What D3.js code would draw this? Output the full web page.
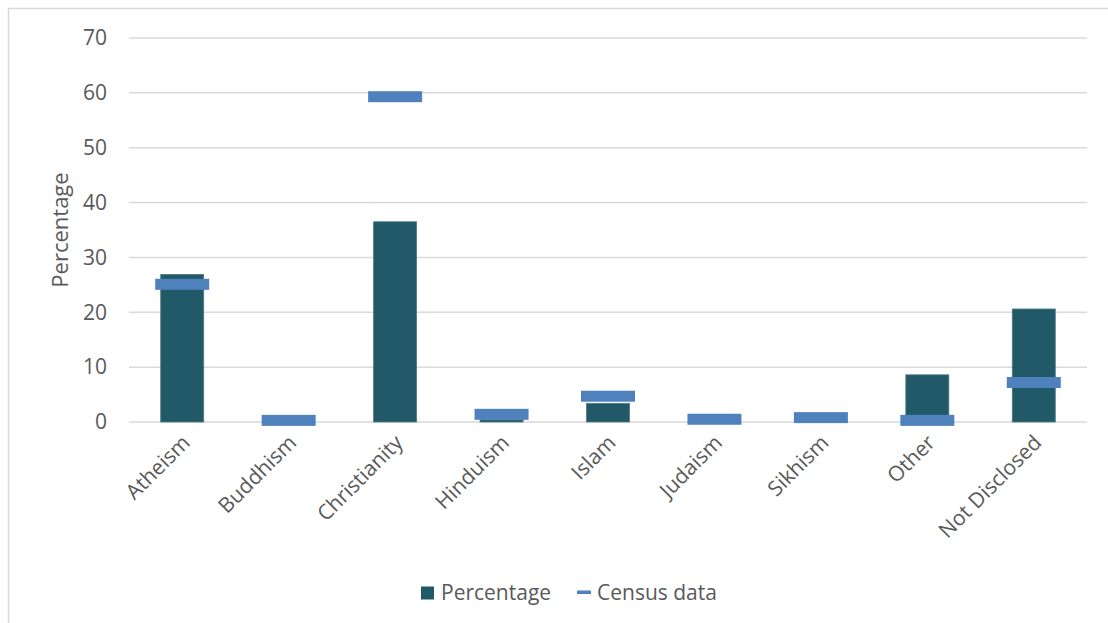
<!DOCTYPE html>
<html>
<head>
<meta charset="utf-8">
<script src="https://cdn.jsdelivr.net/npm/d3@7"></script>
<style>
  html, body { margin: 0; padding: 0; background: #fff; }
  svg { display: block; }
  text { font-family: "Open Sans", "Noto Sans", sans-serif; fill: #595959; }
</style>
</head>
<body>
<script>
// Religion of respondents compared with census figures
const categories = ["Atheism", "Buddhism", "Christianity", "Hinduism", "Islam",
                    "Judaism", "Sikhism", "Other", "Not Disclosed"];
const percentage = [26.9, 0, 36.5, 0.4, 3.4, 0, 0, 8.6, 20.6];
const censusData = [25.1, 0.3, 59.3, 1.4, 4.7, 0.5, 0.8, 0.3, 7.2];
const yTicks = [0, 10, 20, 30, 40, 50, 60, 70];

const W = 1108, H = 623;
const margin = { left: 129, right: 21, top: 38, bottom: 201 };

const svg = d3.select("body").append("svg")
  .attr("width", W).attr("height", H);

// chart area frame
svg.append("rect")
  .attr("x", 8.5).attr("y", 8.5)
  .attr("width", W + 20).attr("height", H + 20)
  .attr("fill", "none").attr("stroke", "#d9d9d9").attr("stroke-width", 1.5);

const x = d3.scaleBand()
  .domain(categories)
  .range([margin.left, W - margin.right])
  .paddingInner(0).paddingOuter(0);

const y = d3.scaleLinear()
  .domain([0, 70])
  .range([H - margin.bottom, margin.top]);

// horizontal gridlines
svg.append("g")
  .selectAll("line")
  .data(yTicks)
  .join("line")
  .attr("x1", margin.left).attr("x2", W - margin.right)
  .attr("y1", d => y(d)).attr("y2", d => y(d))
  .attr("stroke", "#d9d9d9").attr("stroke-width", 1.5);

// y axis labels
const yAxis = d3.axisLeft(y).tickValues(yTicks).tickSize(0).tickPadding(0);
svg.append("g")
  .attr("transform", `translate(${margin.left - 22},0)`)
  .call(yAxis)
  .call(g => g.select(".domain").remove())
  .call(g => g.selectAll("text")
    .attr("font-size", 21)
    .attr("fill", "#595959")
    .attr("font-family", "'Open Sans', sans-serif"));

// y axis title
svg.append("text")
  .attr("transform", `translate(68,${(y(70) + y(0)) / 2}) rotate(-90)`)
  .attr("text-anchor", "middle")
  .attr("font-size", 22)
  .text("Percentage");

// bars
const barW = x.bandwidth() * 0.404;
svg.append("g")
  .selectAll("rect")
  .data(categories.map((c, i) => ({ c, v: percentage[i] })))
  .join("rect")
  .attr("x", d => x(d.c) + x.bandwidth() / 2 - barW / 2)
  .attr("width", barW)
  .attr("y", d => y(d.v))
  .attr("height", d => y(0) - y(d.v))
  .attr("fill", "#215968")
  .attr("stroke", d => d.v > 0 ? "#4d7a86" : "none")
  .attr("stroke-width", 0.8);

// census markers (dash shaped)
const mW = 54, mH = 11;
svg.append("g")
  .selectAll("rect")
  .data(categories.map((c, i) => ({ c, v: censusData[i] })))
  .join("rect")
  .attr("x", d => x(d.c) + x.bandwidth() / 2 - mW / 2)
  .attr("width", mW)
  .attr("y", d => y(d.v) - mH / 2)
  .attr("height", mH)
  .attr("fill", "#4f81bd");

// category labels, rotated
svg.append("g")
  .selectAll("text")
  .data(categories)
  .join("text")
  .attr("transform", d => `translate(${x(d) + x.bandwidth() / 2 + 9},${y(0) + 22}) rotate(-45)`)
  .attr("text-anchor", "end")
  .attr("font-size", 21)
  .text(d => d);

// legend
const lg = svg.append("g");
lg.append("rect")
  .attr("x", 421).attr("y", 586.5).attr("width", 13).attr("height", 13)
  .attr("fill", "#215968");
lg.append("text")
  .attr("x", 441).attr("y", 600)
  .attr("font-size", 21)
  .text("Percentage");
lg.append("rect")
  .attr("x", 577).attr("y", 590.5).attr("width", 14).attr("height", 3.5)
  .attr("fill", "#4f81bd");
lg.append("text")
  .attr("x", 597).attr("y", 600)
  .attr("font-size", 21)
  .text("Census data");
</script>
</body>
</html>
